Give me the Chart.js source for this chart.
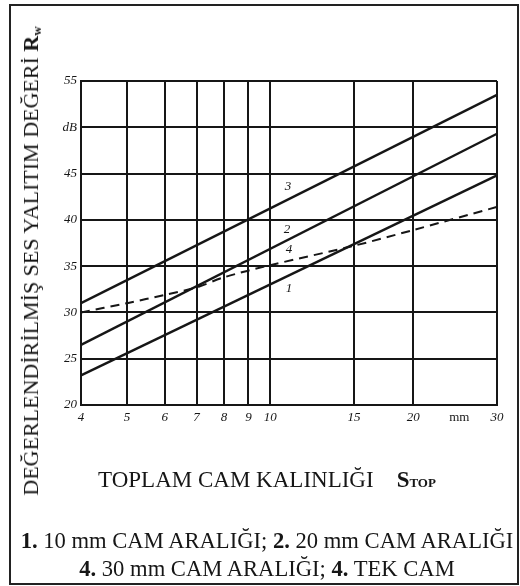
<!DOCTYPE html>
<html lang="tr">
<head>
<meta charset="UTF-8">
<title>Ses yalıtım değeri</title>
<script src="https://cdn.jsdelivr.net/npm/chart.js"></script>
<style>
    body {
        margin: 0;
        background: #fff;
        font-family: "Liberation Serif", "DejaVu Serif", serif;
        color: #161616;
    }
    #page {
        position: relative;
        width: 520px;
        height: 586px;
        overflow: hidden;
    }
    #frame {
        position: absolute;
        left: 9px;
        top: 4px;
        width: 506px;
        height: 577px;
        border: 2px solid #222;
    }
    #chart {
        position: absolute;
        left: 0;
        top: 0;
    }
    .txt {
        position: absolute;
        font-size: 22px;
        line-height: 22px;
        white-space: nowrap;
    }
    #yTitle {
        left: 34px;
        top: 261px;
        transform: translate(-50%, -50%) rotate(-90deg);
    }
    #xTitle, .leg {
        left: 0;
        width: 534px;
        text-align: center;
        font-size: 22.6px;
    }
    #xTitle { top: 469px; font-size: 23px; }
    #leg1 { top: 530px; }
    #leg2 { top: 558px; }
    .sc { font-weight: bold; font-size: 13px; }
    sub { font-size: 13px; vertical-align: -3px; }
</style>
</head>
<body>
<div id="page">
    <div id="frame"></div>
    <canvas id="chart" width="520" height="586"></canvas>
    <div class="txt" id="yTitle">DEĞERLENDİRİLMİŞ SES YALITIM DEĞERİ <b>R<sub>w</sub></b></div>
    <div class="txt" id="xTitle">TOPLAM CAM KALINLIĞI &nbsp;&nbsp; <b>S</b><span class="sc">TOP</span></div>
    <div class="txt leg" id="leg1"><b>1.</b> 10 mm CAM ARALIĞI; <b>2.</b> 20 mm CAM ARALIĞI</div>
    <div class="txt leg" id="leg2"><b>4.</b> 30 mm CAM ARALIĞI; <b>4.</b> TEK CAM</div>
</div>

<script>
    // eksen değerleri
    const xTickValues = [4, 5, 6, 7, 8, 9, 10, 15, 20, 25, 30];
    const xTickLabels = ["4", "5", "6", "7", "8", "9", "10", "15", "20", "mm", "30"];
    const yTickLabels = ["20", "25", "30", "35", "40", "45", "dB", "55"];

    // eğriler (cam kalınlığı mm -> Rw dB)
    const thickness1 = [4, 30];
    const rw1 = [23.2, 44.8];
    const thickness2 = [4, 30];
    const rw2 = [26.5, 49.3];
    const thickness3 = [4, 30];
    const rw3 = [31.0, 53.5];
    const thickness4 = [4, 5, 6, 7, 8, 10, 15, 20, 30];
    const rw4 = [30.0, 31.0, 31.9, 32.7, 33.8, 35.1, 37.2, 38.9, 41.4];

    // eğri numaraları
    const curveNames = ["1", "2", "3", "4"];
    const nameX = [10.95, 10.85, 10.9, 10.95];
    const nameY = [32.6, 38.9, 43.6, 36.8];

    const ink = "#161616";
    const toPoints = (xs, ys) => xs.map((x, i) => ({ x: x, y: ys[i] }));

    const curveNumbers = {
        id: "curveNumbers",
        afterDatasetsDraw(chart) {
            const c = chart.ctx;
            const sx = chart.scales.x, sy = chart.scales.y;
            c.save();
            c.fillStyle = ink;
            c.font = "italic 13px 'Liberation Serif'";
            c.textAlign = "center";
            c.textBaseline = "middle";
            curveNames.forEach((n, i) => {
                c.fillText(n, sx.getPixelForValue(nameX[i]), sy.getPixelForValue(nameY[i]));
            });
            c.restore();
        }
    };

    const lineStyle = { borderColor: ink, borderWidth: 2.4, pointRadius: 0, fill: false };

    new Chart(document.getElementById("chart"), {
        type: "line",
        data: {
            datasets: [
                Object.assign({ data: toPoints(thickness1, rw1) }, lineStyle),
                Object.assign({ data: toPoints(thickness2, rw2) }, lineStyle),
                Object.assign({ data: toPoints(thickness3, rw3) }, lineStyle),
                Object.assign({}, lineStyle, { data: toPoints(thickness4, rw4), borderDash: [9, 6], borderWidth: 2, tension: 0.3 })
            ]
        },
        options: {
            responsive: false,
            animation: false,
            layout: { padding: { left: 41, right: 23, top: 81, bottom: 157 } },
            plugins: { legend: { display: false }, tooltip: { enabled: false } },
            scales: {
                x: {
                    type: "logarithmic",
                    min: 4,
                    max: 30,
                    afterBuildTicks: (scale) => {
                        scale.ticks = xTickValues.map(v => ({ value: v }));
                    },
                    afterFit: (scale) => { scale.height = 24; },
                    grid: {
                        color: (ctx) => (ctx.tick && ctx.tick.value === 25) ? "rgba(0,0,0,0)" : ink,
                        lineWidth: 2,
                        drawTicks: false
                    },
                    border: { color: ink, width: 2 },
                    ticks: {
                        autoSkip: false,
                        maxRotation: 0,
                        padding: 5,
                        color: ink,
                        font: (ctx) => ({
                            family: "Liberation Serif",
                            size: 13,
                            style: (ctx.tick && ctx.tick.value === 25) ? "normal" : "italic"
                        }),
                        callback: (value, index) => xTickLabels[index]
                    }
                },
                y: {
                    min: 20,
                    max: 55,
                    afterFit: (scale) => { scale.width = 40; },
                    grid: { color: ink, lineWidth: 2, drawTicks: false },
                    border: { color: ink, width: 2 },
                    ticks: {
                        stepSize: 5,
                        padding: 4,
                        color: ink,
                        font: { family: "Liberation Serif", size: 13, style: "italic" },
                        callback: (value, index) => yTickLabels[index]
                    }
                }
            }
        },
        plugins: [curveNumbers]
    });
</script>
</body>
</html>
